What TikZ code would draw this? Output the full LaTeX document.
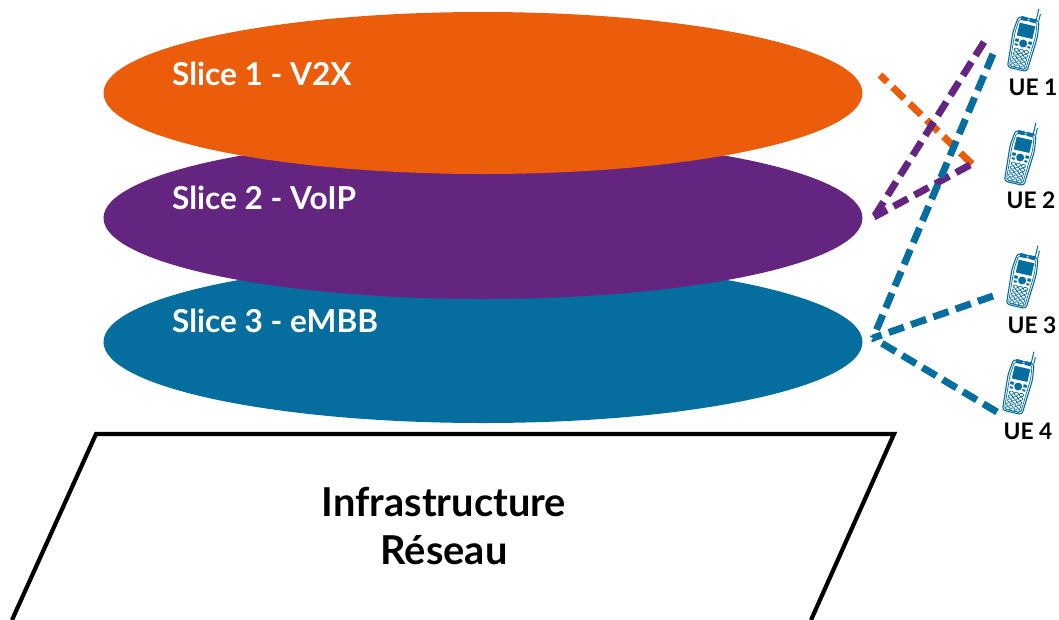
\documentclass[tikz,border=0pt]{standalone}
\usepackage{fontspec}
\setmainfont{Lato}
\usetikzlibrary{calc,shapes.geometric}
\definecolor{sliceO}{HTML}{EC5D0B}
\definecolor{sliceP}{HTML}{642581}
\definecolor{sliceB}{HTML}{056E9F}
\tikzset{
  slice/.style={ellipse,minimum width=759pt,minimum height=162pt,inner sep=0pt},
  slicelabel/.style={anchor=west,text=white,inner sep=0pt,font=\bfseries\fontsize{31.6}{36}\selectfont},
  uelabel/.style={text=black,font=\bfseries\fontsize{22.8}{25}\selectfont,inner sep=0pt},
  link/.style={line width=7pt,dash pattern=on 16pt off 7.6pt},
  infra/.style={draw=black,line width=4.2pt,miter limit=10},
  infratext/.style={align=center,font=\bfseries\fontsize{39.8}{48}\selectfont,inner sep=0pt},
  pics/phone/.style={code={
    \begin{scope}[rotate=-13,sliceB,x=1pt,y=1pt]
      \draw[line width=1.1pt,fill=white,rounded corners=3pt] (-10,-26) -- (-12.5,10) -- (-10.5,26) -- (10.5,26) -- (12.5,10) -- (10,-26) -- cycle;
      \draw[line width=0.7pt,rounded corners=2pt] (-8.3,-24.5) -- (-10.5,10) -- (-9,24) -- (9,24) -- (10.5,10) -- (8.3,-24.5) -- cycle;
      \draw[line width=1pt] (7.5,26) -- (7.5,38);
      \draw[line width=1pt] (10.2,26) -- (10.2,33);
      \fill[rounded corners=1pt] (-8,27) rectangle (-1,23);
      \fill[rounded corners=1pt] (1,27) rectangle (8,23);
      \fill (-8,20) rectangle (8,7);
      \fill (0,0.5) circle (4pt);
      \fill (-8.5,4) rectangle (-5,1);
      \fill (8.5,4) rectangle (5,1);
      \fill (-8,-3) -- (-5,-3) -- (-5,-1) -- (-8,-1) -- cycle;
      \fill (8,-3) -- (5,-3) -- (5,-1) -- (8,-1) -- cycle;
      \foreach \r in {-7,-11,-15,-19,-23}{
        \foreach \c in {-5.4,0,5.4}{
          \draw[line width=0.7pt] (\c*0.95,\r) ellipse (2.2pt and 1.6pt);
        }
      }
    \end{scope}
  }}
}
\begin{document}
\begin{tikzpicture}[x=1pt,y=-1pt]
  \useasboundingbox (0,0) rectangle (1059,619);
  % infrastructure
  \coordinate (pa) at (12,620);
  \coordinate (pb) at (96,434);
  \coordinate (pc) at (894,434);
  \coordinate (pd) at (811,620);
  \begin{scope}
    \clip (0,0) rectangle (1059,619);
    \draw[infra] (pa) -- (pb) -- (pc) -- (pd);
  \end{scope}
  \node[infratext] (infra) at (444,526) {Infrastructure\\Réseau};
  % slices
  \node[slice,fill=sliceB] (s3) at (483,342) {};
  \node[slice,fill=sliceP] (s2) at (483,218) {};
  \node[slice,fill=sliceO] (s1) at (483,93) {};
  \node[slicelabel] (l1) at (172,74) {Slice 1 - V2X};
  \node[slicelabel] (l2) at (172,198) {Slice 2 - VoIP};
  \node[slicelabel] (l3) at (172,321) {Slice 3 - eMBB};
  % phones
  \pic at (1023,44) {phone};
  \pic at (1020,158) {phone};
  \pic at (1022,281) {phone};
  \pic at (1018,387) {phone};
  \node[uelabel] (u1) at (1033,87) {UE 1};
  \node[uelabel] (u2) at (1031,200) {UE 2};
  \node[uelabel] (u3) at (1032,325) {UE 3};
  \node[uelabel] (u4) at (1028,431) {UE 4};
  % link ends
  \coordinate (oa) at (880,75);
  \coordinate (ob) at (972,164);
  \coordinate (pp) at (874,217);
  \coordinate (p1) at (984,42);
  \coordinate (p2) at (970,165);
  \coordinate (b1) at (993,54);
  \coordinate (b0) at (873,338);
  \coordinate (b3) at (993,296);
  \coordinate (b4) at (997,412);
  % links
  \draw[link,sliceO] (ob) -- (oa);
  \draw[link,sliceP] (p1) -- (pp);
  \draw[link,sliceP] (p2) -- (pp);
  \draw[link,sliceB] (b1) -- (b0);
  \draw[link,sliceB] (b3) -- (b0);
  \draw[link,sliceB] (b4) -- (b0);
\end{tikzpicture}
\end{document}
